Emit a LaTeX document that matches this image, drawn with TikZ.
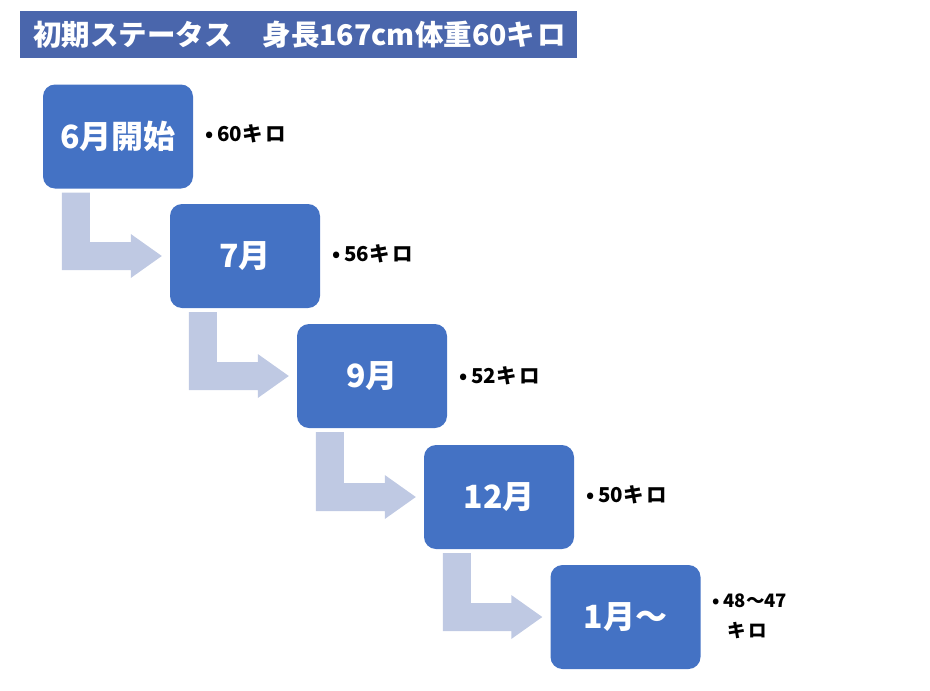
\documentclass[tikz,border=0pt]{standalone}
\usepackage{fontspec}
\setmainfont{Noto Sans CJK JP}
\usetikzlibrary{calc}
\definecolor{titlebg}{HTML}{4A66AC}
\definecolor{boxblue}{HTML}{4472C4}
\definecolor{arrowblue}{HTML}{BFC9E3}
\begin{document}
\begin{tikzpicture}[x=1pt,y=-1pt,
  stagebox/.style={fill=boxblue, draw=none, rounded corners=12pt, minimum width=150pt, minimum height=104pt, inner sep=0pt, text=white, font=\fontsize{32}{36}\selectfont\bfseries},
  weightlabel/.style={anchor=west, inner sep=0pt, text=black, font=\fontsize{20.5}{30}\selectfont\bfseries, align=left},
  bentarrow/.style={fill=arrowblue, draw=none}]
\useasboundingbox (0,0) rectangle (930,691);
\fill[titlebg] (20,11) rectangle (577,58);
\node[anchor=west, inner sep=0pt, text=white, font=\fontsize{28.5}{30}\selectfont\bfseries] (title) at (33,35) {初期ステータス\hspace{1.05em}身長167cm体重60キ\hspace{2pt}ロ};

\node[stagebox] (b1) at (118,136.5) {6月開始};
\node[stagebox] (b2) at (245,256) {7月};
\node[stagebox] (b3) at (372,376) {9月};
\node[stagebox] (b4) at (499,497) {12月};
\node[stagebox] (b5) at (625.5,617) {1月～};

\node[weightlabel] (w1) at (205,134) {•\hspace{4pt}60キ\hspace{3pt}ロ};
\node[weightlabel] (w2) at (332,254) {•\hspace{4pt}56キ\hspace{3pt}ロ};
\node[weightlabel] (w3) at (459,376) {•\hspace{4pt}52キ\hspace{3pt}ロ};
\node[weightlabel] (w4) at (586,495) {•\hspace{4pt}50キ\hspace{3pt}ロ};
\node[weightlabel, anchor=north west, font=\fontsize{18.5}{30}\selectfont\bfseries] (w5) at (712,594) {•\hspace{4pt}48～47\\\hspace{15pt}キ\hspace{3pt}ロ};

\foreach \a/\b in {b1/b2,b2/b3,b3/b4,b4/b5}{
  \fill[bentarrow] let \p1=(\a.south west), \p2=(\b.west) in
    (\x1+19pt,\y1-4pt) -- (\x1+47pt,\y1-4pt) -- (\x1+47pt,\y2+14pt) -- (\x2-39pt,\y2+14pt)
    -- (\x2-39pt,\y2+22pt) -- (\x2-8pt,\y2) -- (\x2-39pt,\y2-22pt) -- (\x2-39pt,\y2-14pt)
    -- (\x1+19pt,\y2-14pt) -- cycle;
}
\end{tikzpicture}
\end{document}
